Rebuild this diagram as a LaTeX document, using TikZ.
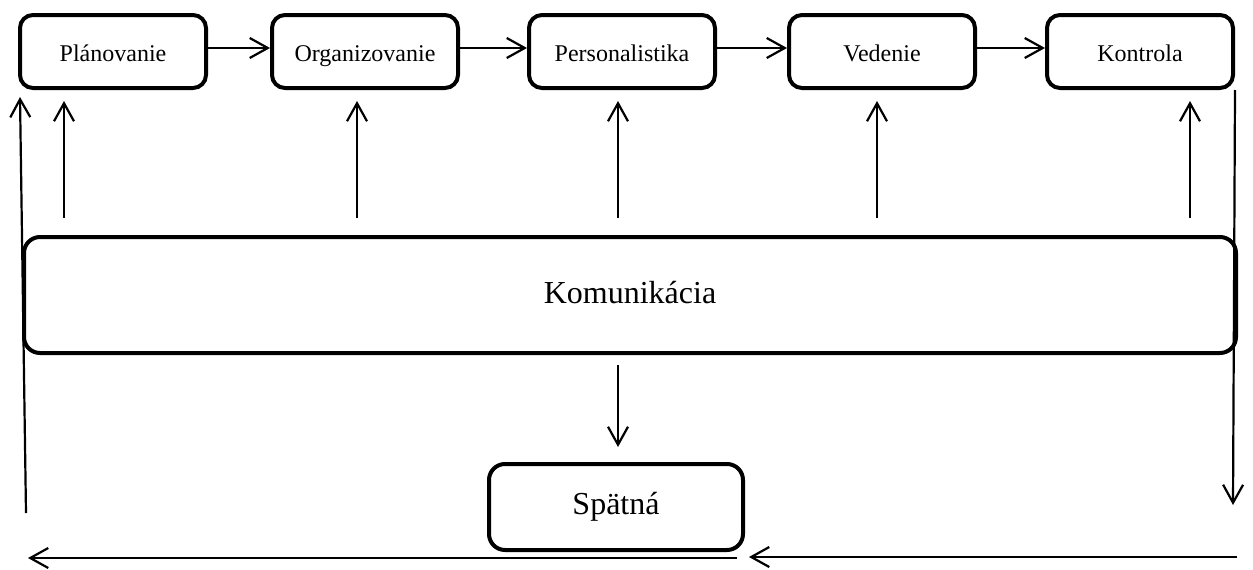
\documentclass[tikz,border=0pt]{standalone}
\usepackage{fontspec}
\setmainfont{Liberation Serif}
\usetikzlibrary{arrows.meta}
\begin{document}
\begin{tikzpicture}[x=1pt,y=-1pt,
  phase/.style={draw, line width=4pt, rounded corners=13pt, minimum width=186pt,
    minimum height=73pt, inner sep=0pt, text height=26pt, text depth=6pt,
    font=\fontsize{24}{28}\selectfont},
  bigbox/.style={draw, line width=4pt, rounded corners=16pt, inner sep=0pt,
    font=\fontsize{32}{38}\selectfont},
  conn/.style={line width=2.2pt, -{Straight Barb[length=18pt,width=20pt,line width=2.2pt]}}]
\useasboundingbox (0,0) rectangle (1253,570);

% management functions
\node[phase] (p1) at (113,51.5) {Plánovanie};
\node[phase] (p2) at (365,51.5) {Organizovanie};
\node[phase] (p3) at (622,51.5) {Personalistika};
\node[phase] (p4) at (882,51.5) {Vedenie};
\node[phase] (p5) at (1140,51.5) {Kontrola};

% communication and feedback
\node[bigbox, minimum width=1212pt, minimum height=116pt] (kom) at (630,295) {\raisebox{6pt}{Komunikácia}};
\node[bigbox, minimum width=254pt, minimum height=86pt] (spat) at (616,507) {Spätná};

% sequence of functions
\foreach \a/\b in {p1/p2,p2/p3,p3/p4,p4/p5}
  \draw[conn] ([yshift=3.5pt]\a.east) -- ([yshift=3.5pt]\b.west);

% communication feeds every function
\coordinate (u1) at (64,0);
\coordinate (u2) at (357,0);
\coordinate (u3) at (618,0);
\coordinate (u4) at (877,0);
\coordinate (u5) at (1190,0);
\draw[conn, shorten <=17pt, shorten >=11pt] (kom.north -| u1) -- (p1.south -| u1);
\draw[conn, shorten <=17pt, shorten >=11pt] (kom.north -| u2) -- (p2.south -| u2);
\draw[conn, shorten <=17pt, shorten >=11pt] (kom.north -| u3) -- (p3.south -| u3);
\draw[conn, shorten <=17pt, shorten >=11pt] (kom.north -| u4) -- (p4.south -| u4);
\draw[conn, shorten <=17pt, shorten >=11pt] (kom.north -| u5) -- (p5.south -| u5);

% communication to feedback
\coordinate (d) at (618,0);
\draw[conn, shorten <=10pt, shorten >=15pt] (kom.south -| d) -- (spat.north -| d);

% feedback loop
\coordinate (rb) at (1233,505);
\draw[conn] (p5.south east) -- (rb);
\coordinate (br) at (1237,557);
\coordinate (bm) at (749,557);
\draw[conn] (br) -- (bm);
\coordinate (bl1) at (737,558);
\coordinate (bl2) at (28,558);
\draw[conn] (bl1) -- (bl2);
\coordinate (lb) at (26,513);
\coordinate (lt) at (20,97);
\draw[conn] (lb) -- (lt);
\end{tikzpicture}
\end{document}
